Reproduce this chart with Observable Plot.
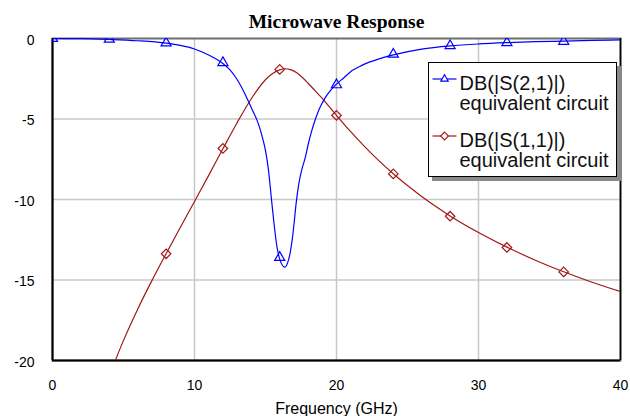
<!DOCTYPE html>
<html>
<head>
<meta charset="utf-8">
<script src="https://cdn.jsdelivr.net/npm/d3@7"></script>
<script src="https://cdn.jsdelivr.net/npm/@observablehq/plot@0.6"></script>
<style>
  body { margin: 0; background: #fff; }
  #wrap { position: relative; width: 630px; height: 416px; overflow: hidden; font-family: "Liberation Sans", Arial, sans-serif; }
  #legend { position: absolute; left: 428px; top: 62px; width: 189px; height: 115px; box-sizing: border-box;
            border: 1.5px solid #000; background: #fff; box-shadow: 4px 4px 0 #8a8a8a; }
  .lt { position: absolute; left: 30.5px; font-size: 20px; line-height: 20px; color: #111; white-space: nowrap; }
  .ls { position: absolute; left: 0; }
</style>
</head>
<body>
<div id="wrap"></div>
<script>
// ---- chart text ----
const title = "Microwave Response";
const xLabel = "Frequency (GHz)";
const xTicks = [0, 10, 20, 30, 40];
const yTicks = [0, -5, -10, -15, -20];
const seriesNames = ["DB(|S(2,1)|)", "DB(|S(1,1)|)"];
const seriesSub = "equivalent circuit";
const colors = ["#0000ff", "#a01818"];

// ---- DB(|S(2,1)|) curve (GHz, dB) ----
const s21Freq = [0, 2, 4, 6, 8, 9, 10, 10.5, 11, 11.5, 12, 12.5, 13, 13.5, 14, 14.5, 14.8, 15.0, 15.2, 15.4, 15.6, 15.8, 16.0, 16.2, 16.36, 16.55, 16.75, 16.95, 17.15, 17.35, 17.6, 17.8, 18.0, 18.25, 18.5, 18.75, 19.0, 19.3, 19.6, 19.9, 20.5, 21.1, 21.6, 22.3, 23, 24, 26, 28, 30, 32, 34, 36, 38, 40];
const s21Db   = [0, -0.01, -0.06, -0.14, -0.29, -0.43, -0.65, -0.82, -1.02, -1.26, -1.55, -1.95, -2.55, -3.35, -4.3, -5.3, -6.2, -6.96, -8.1, -9.8, -11.5, -12.9, -13.7, -14.1, -14.2, -13.95, -13.25, -12.0, -10.3, -9.0, -8.0, -7.4, -6.6, -5.75, -5.05, -4.45, -4.0, -3.55, -3.2, -2.92, -2.45, -1.99, -1.75, -1.47, -1.27, -1.02, -0.66, -0.46, -0.34, -0.26, -0.2, -0.16, -0.12, -0.09];

// ---- DB(|S(1,1)|) curve (GHz, dB) ----
const s11Freq = [4.0, 5, 6, 7, 8, 9, 10, 11, 12, 13, 14, 15, 15.5, 16, 16.4, 16.8, 17.2, 17.6, 18, 18.5, 19, 19.5, 20, 21, 22, 23, 24, 25, 26, 27, 28, 30, 32, 34, 36, 38, 40];
const s11Db   = [-20.96, -18.75, -16.81, -15.04, -13.37, -11.74, -10.12, -8.5, -6.85, -5.23, -3.74, -2.56, -2.18, -1.95, -1.88, -1.95, -2.12, -2.42, -2.78, -3.25, -3.72, -4.25, -4.77, -5.79, -6.73, -7.6, -8.4, -9.13, -9.81, -10.44, -11.02, -12.05, -12.96, -13.77, -14.49, -15.14, -15.72];

// ---- markers ----
const s21MarkFreq = [0, 4, 8, 12, 16, 20, 24, 28, 32, 36];
const s21MarkDb   = [0, -0.05, -0.28, -1.5, -13.6, -2.88, -0.98, -0.45, -0.26, -0.18];
const s11MarkFreq = [8, 12, 16, 20, 24, 28, 32, 36];
const s11MarkDb   = [-13.37, -6.83, -1.92, -4.78, -8.41, -11.04, -12.98, -14.5];

const toRows = (fs, ds) => fs.map((f, i) => ({f, db: ds[i]}));
const s21 = toRows(s21Freq, s21Db);
const s11 = toRows(s11Freq, s11Db);
const m21 = toRows(s21MarkFreq, s21MarkDb);
const m11 = toRows(s11MarkFreq, s11MarkDb);

const sans = '"Liberation Sans", Arial, sans-serif';
const serif = '"Liberation Serif", "Times New Roman", serif';

const chart = Plot.plot({
  width: 630,
  height: 416,
  marginTop: 38,
  marginBottom: 56,
  marginLeft: 52,
  marginRight: 10,
  style: {fontFamily: sans, fontSize: "14px", color: "#000", background: "#fff"},
  x: {domain: [0, 40], ticks: xTicks},
  y: {domain: [-20, 0], ticks: yTicks},
  marks: [
    Plot.gridX(xTicks.slice(1, -1), {stroke: "#c8c8c8", strokeOpacity: 1, strokeWidth: 1.5}),
    Plot.gridY(yTicks.slice(1, -1), {stroke: "#c8c8c8", strokeOpacity: 1, strokeWidth: 1.5}),
    Plot.frame({stroke: "#6e6e6e", strokeWidth: 2}),
    Plot.ruleX([40], {stroke: "#000", strokeWidth: 1.5}),
    Plot.ruleX([0], {stroke: "#000", strokeWidth: 2}),
    Plot.ruleY([-20], {stroke: "#000", strokeWidth: 2}),
    Plot.line(s11, {x: "f", y: "db", stroke: colors[1], strokeWidth: 1.2, curve: "monotone-x", clip: true}),
    Plot.line(s21, {x: "f", y: "db", stroke: colors[0], strokeWidth: 1.2, curve: "monotone-x", clip: true}),
    Plot.dot(m11, {x: "f", y: "db", symbol: "diamond2", r: 4.3, stroke: colors[1], strokeWidth: 1.2, fill: "none", clip: true}),
    Plot.dot(m21, {x: "f", y: "db", symbol: "triangle2", r: 4.8, stroke: colors[0], strokeWidth: 1.2, fill: "none", clip: true}),
    Plot.axisX({ticks: xTicks, tickSize: 0, tickPadding: 20, label: null, fill: "#000", tickFormat: d => String(d)}),
    Plot.axisY({ticks: yTicks, tickSize: 0, tickPadding: 18, label: null, dy: 2, fill: "#000", tickFormat: d => String(d)}),
    Plot.text([title], {text: d => d, frameAnchor: "top", lineAnchor: "middle", dy: -17, fontSize: 19.5, fontWeight: "bold", fontFamily: serif, fill: "#000"}),
    Plot.text([xLabel], {text: d => d, frameAnchor: "bottom", lineAnchor: "middle", dy: 48, fontSize: 16, fill: "#000"})
  ]
});

const wrap = document.getElementById("wrap");
wrap.appendChild(chart);

// ---- legend ----
const legend = document.createElement("div");
legend.id = "legend";
wrap.appendChild(legend);
const entries = [
  {name: seriesNames[0], color: colors[0], sym: d3.symbolTriangle2, size: 40, top: 10, lineY: 16},
  {name: seriesNames[1], color: colors[1], sym: d3.symbolDiamond2, size: 38, top: 66.5, lineY: 73}
];
for (const e of entries) {
  const svg = d3.select(legend).append("svg").attr("class", "ls")
    .attr("width", 30).attr("height", 20)
    .style("top", (e.lineY - 10) + "px");
  svg.append("line").attr("x1", 3.5).attr("x2", 27.5).attr("y1", 10).attr("y2", 10)
    .attr("stroke", e.color).attr("stroke-width", 1.2);
  svg.append("path").attr("d", d3.symbol(e.sym, e.size)()).attr("transform", "translate(15.5,10)")
    .attr("fill", "#fff").attr("stroke", e.color).attr("stroke-width", 1.1);
  const l1 = document.createElement("div");
  l1.className = "lt"; l1.style.top = e.top + "px"; l1.textContent = e.name;
  const l2 = document.createElement("div");
  l2.className = "lt"; l2.style.top = (e.top + 20) + "px"; l2.textContent = seriesSub;
  legend.appendChild(l1); legend.appendChild(l2);
}
</script>
</body>
</html>
